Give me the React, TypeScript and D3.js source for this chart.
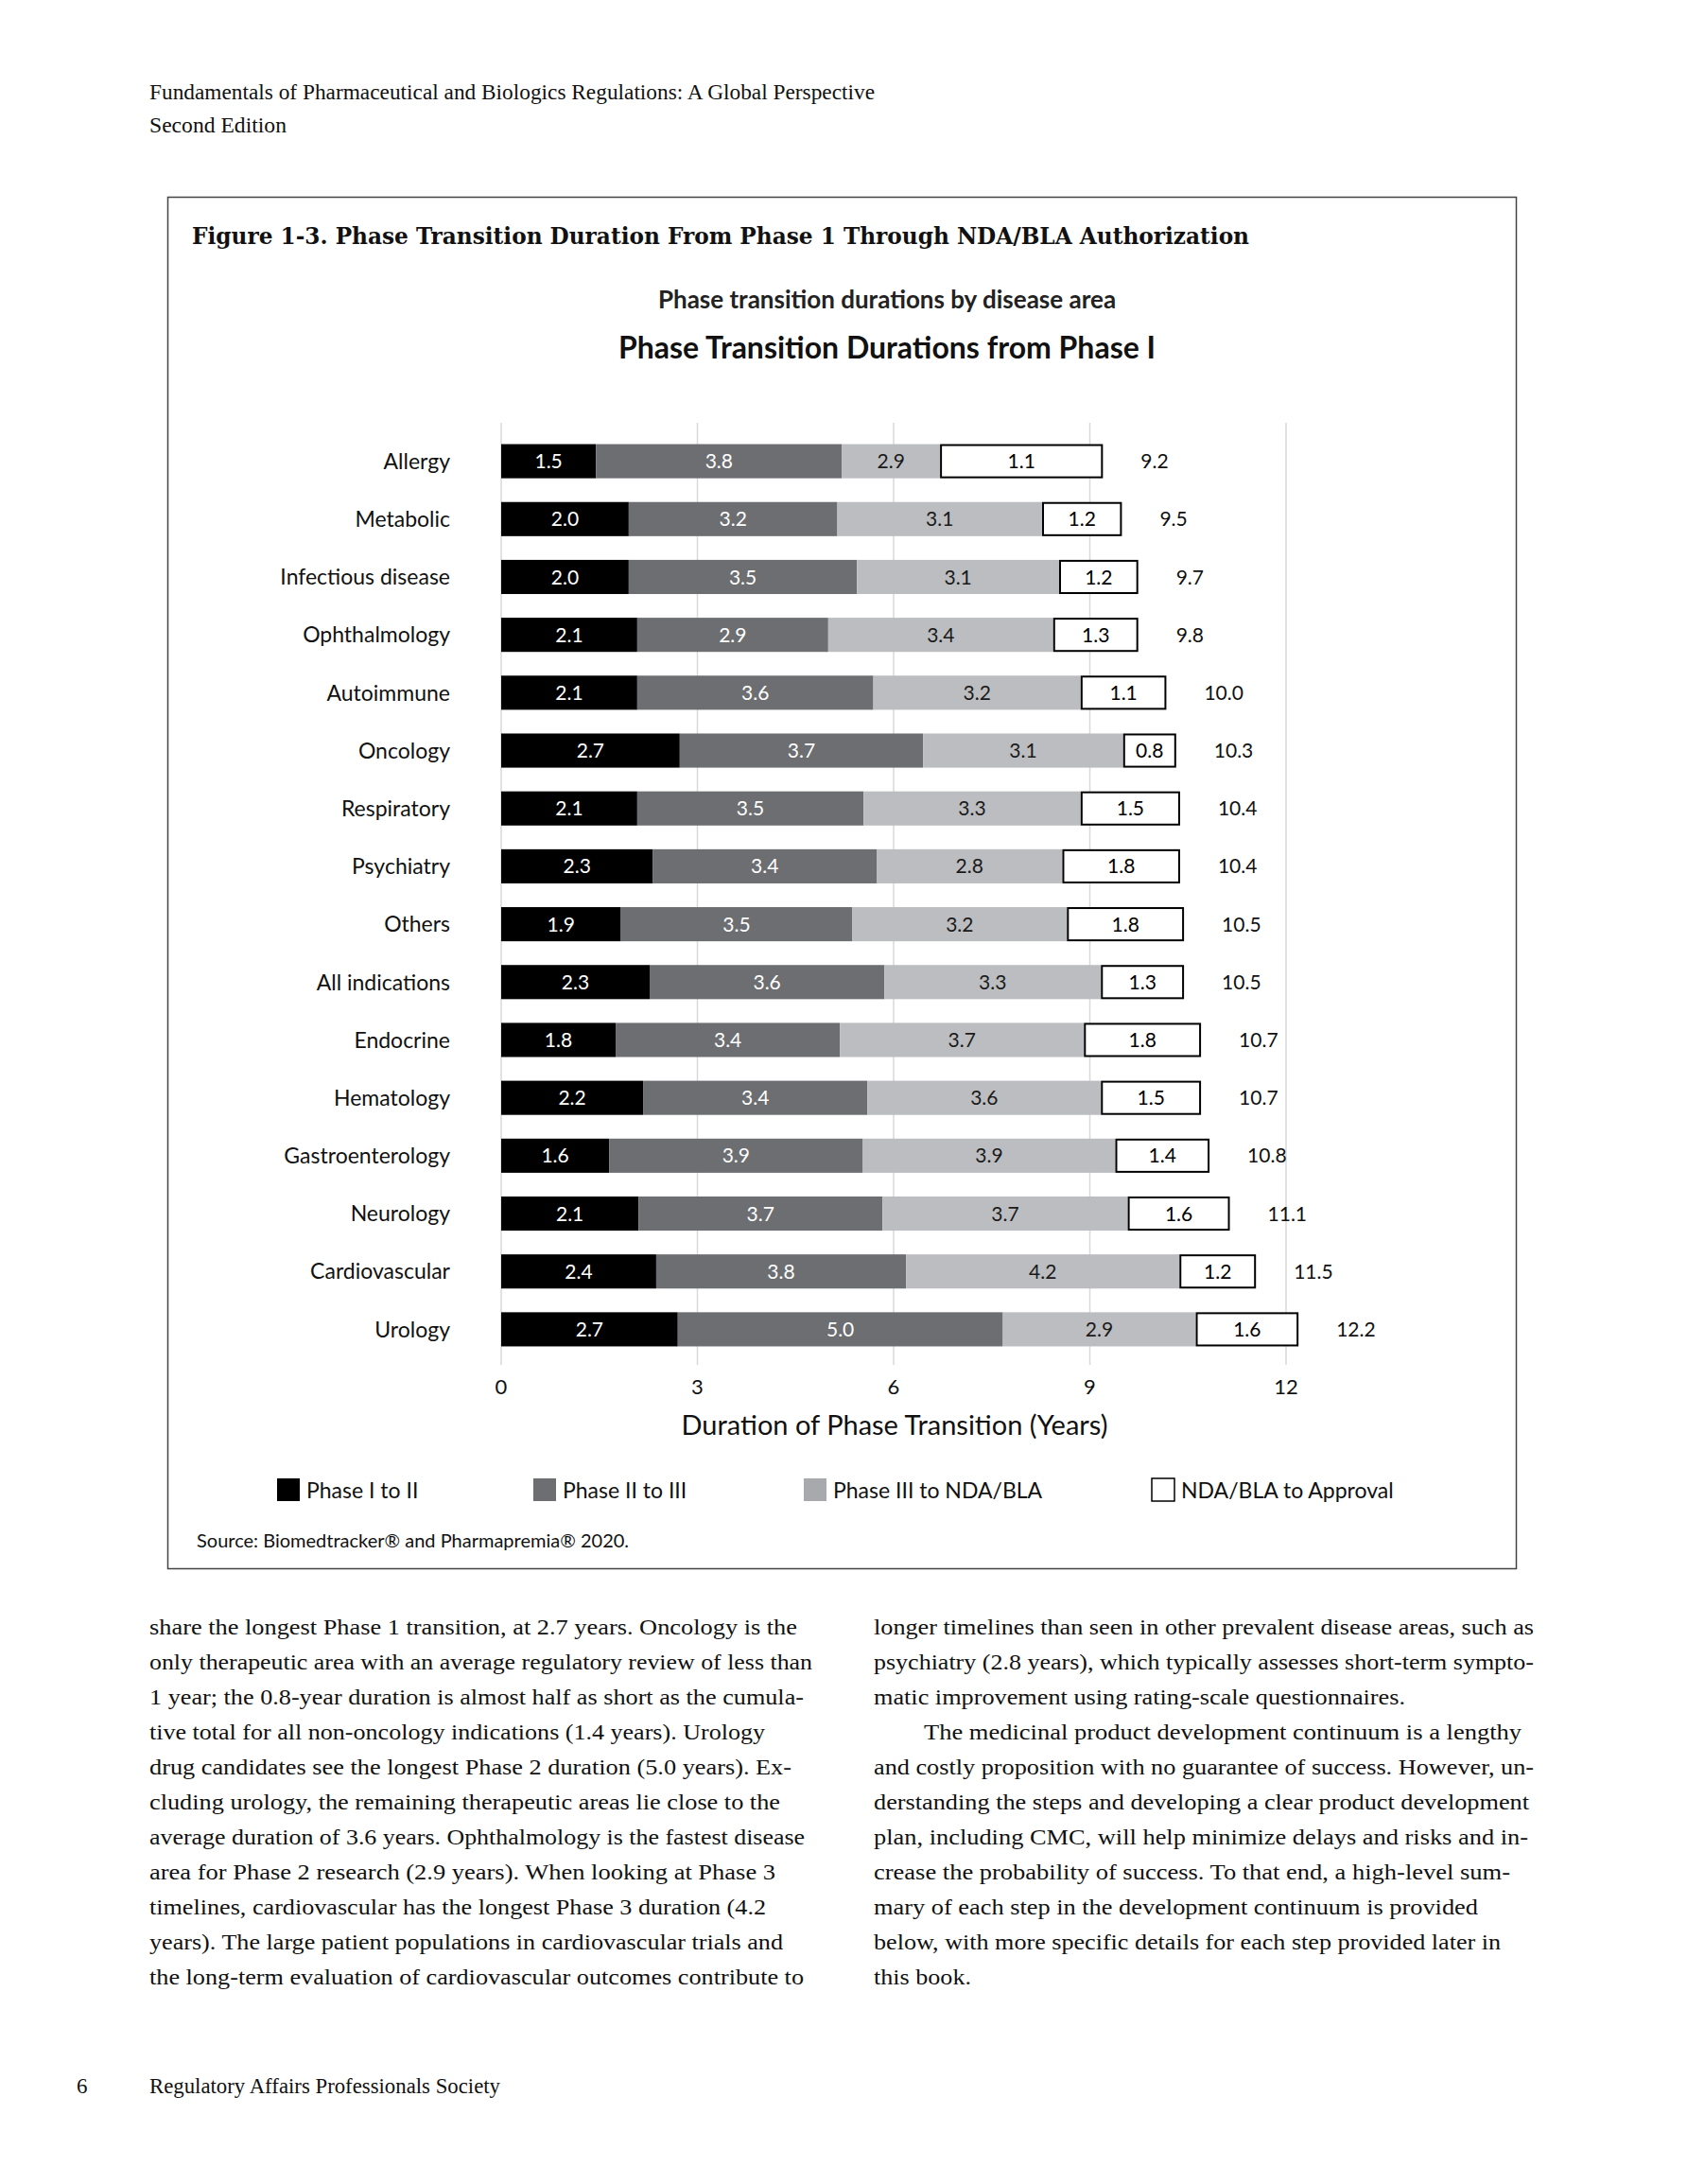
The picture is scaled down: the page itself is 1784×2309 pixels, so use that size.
import React from "react";
import * as d3 from "d3";

// ---------- chart data ----------
const categories = [
  "Allergy", "Metabolic", "Infectious disease", "Ophthalmology", "Autoimmune",
  "Oncology", "Respiratory", "Psychiatry", "Others", "All indications",
  "Endocrine", "Hematology", "Gastroenterology", "Neurology", "Cardiovascular", "Urology",
];
const seriesNames = ["Phase I to II", "Phase II to III", "Phase III to NDA/BLA", "NDA/BLA to Approval"];

// drawn segment lengths (years), as measured on the bars
const phase1 = [1.45, 1.95, 1.95, 2.08, 2.08, 2.73, 2.08, 2.32, 1.83, 2.27, 1.75, 2.17, 1.65, 2.10, 2.37, 2.70];
const phase2 = [3.76, 3.19, 3.49, 2.92, 3.61, 3.72, 3.46, 3.42, 3.54, 3.59, 3.43, 3.43, 3.88, 3.73, 3.82, 4.97];
const phase3 = [1.50, 3.13, 3.09, 3.44, 3.17, 3.06, 3.32, 2.84, 3.28, 3.31, 3.73, 3.57, 3.86, 3.75, 4.18, 2.95];
const phase4 = [2.49, 1.22, 1.21, 1.30, 1.31, 0.81, 1.52, 1.80, 1.79, 1.27, 1.79, 1.53, 1.44, 1.56, 1.17, 1.57];

// printed data labels
const phase1Labels = [1.5, 2.0, 2.0, 2.1, 2.1, 2.7, 2.1, 2.3, 1.9, 2.3, 1.8, 2.2, 1.6, 2.1, 2.4, 2.7];
const phase2Labels = [3.8, 3.2, 3.5, 2.9, 3.6, 3.7, 3.5, 3.4, 3.5, 3.6, 3.4, 3.4, 3.9, 3.7, 3.8, 5.0];
const phase3Labels = [2.9, 3.1, 3.1, 3.4, 3.2, 3.1, 3.3, 2.8, 3.2, 3.3, 3.7, 3.6, 3.9, 3.7, 4.2, 2.9];
const phase4Labels = [1.1, 1.2, 1.2, 1.3, 1.1, 0.8, 1.5, 1.8, 1.8, 1.3, 1.8, 1.5, 1.4, 1.6, 1.2, 1.6];
const totalLabels = [9.2, 9.5, 9.7, 9.8, 10.0, 10.3, 10.4, 10.4, 10.5, 10.5, 10.7, 10.7, 10.8, 11.1, 11.5, 12.2];

const xTicks = [0, 3, 6, 9, 12];

// ---------- page text ----------
const leftLines = [
  "share the longest Phase 1 transition, at 2.7 years. Oncology is the",
  "only therapeutic area with an average regulatory review of less than",
  "1 year; the 0.8-year duration is almost half as short as the cumula-",
  "tive total for all non-oncology indications (1.4 years). Urology",
  "drug candidates see the longest Phase 2 duration (5.0 years). Ex-",
  "cluding urology, the remaining therapeutic areas lie close to the",
  "average duration of 3.6 years. Ophthalmology is the fastest disease",
  "area for Phase 2 research (2.9 years). When looking at Phase 3",
  "timelines, cardiovascular has the longest Phase 3 duration (4.2",
  "years). The large patient populations in cardiovascular trials and",
  "the long-term evaluation of cardiovascular outcomes contribute to",
];
const leftEnds = [843, 859, 850, 809, 837, 825, 851, 820, 810, 828, 850];
const rightLines = [
  "longer timelines than seen in other prevalent disease areas, such as",
  "psychiatry (2.8 years), which typically assesses short-term sympto-",
  "matic improvement using rating-scale questionnaires.",
  "The medicinal product development continuum is a lengthy",
  "and costly proposition with no guarantee of success. However, un-",
  "derstanding the steps and developing a clear product development",
  "plan, including CMC, will help minimize delays and risks and in-",
  "crease the probability of success. To that end, a high-level sum-",
  "mary of each step in the development continuum is provided",
  "below, with more specific details for each step provided later in",
  "this book.",
];
const rightEnds = [1622, 1622, 1486, 1609, 1622, 1617, 1616, 1597, 1563, 1587, 1027];

const colors = ["#000000", "#6d6e71", "#bcbdc0", "#ffffff"];
const legendColors = ["#000000", "#6d6e71", "#a7a9ac", "#ffffff"];
const labelColors = ["#ffffff", "#ffffff", "#1a1a1a", "#000000"];

export default function App() {
  const W = 1784, H = 2309;
  const x = d3.scaleLinear().domain([0, 12]).range([530, 1360]);
  const y = d3.scaleBand<string>().domain(categories).range([457, 1436]).paddingInner(0.41).paddingOuter(0.205);

  const rows = categories.map((c, i) => ({
    cat: c, p1: phase1[i], p2: phase2[i], p3: phase3[i], p4: phase4[i],
  }));
  const keys = ["p1", "p2", "p3", "p4"];
  const stacked = d3.stack<any>().keys(keys)(rows);
  const labelSets = [phase1Labels, phase2Labels, phase3Labels, phase4Labels];

  const lato = "Lato, 'Open Sans', sans-serif";
  const serif = "'Liberation Serif', 'DejaVu Serif', serif";
  const bodyTop = 1728;
  const lineStep = 36.98;

  return (
    <div style={{ position: "absolute", left: 0, top: 0, background: "#fff" }}>
      <svg width={W} height={H} viewBox={`0 0 ${W} ${H}`} style={{ display: "block", background: "#fff" }}>
        <rect x={0} y={0} width={W} height={H} fill="#fff" />
        {/* running header */}
        <text x={158} y={105} fontFamily={serif} fontSize={23} fill="#111" textLength={767} lengthAdjust="spacingAndGlyphs">
          Fundamentals of Pharmaceutical and Biologics Regulations: A Global Perspective
        </text>
        <text x={158} y={140} fontFamily={serif} fontSize={23} fill="#111" textLength={145} lengthAdjust="spacingAndGlyphs">
          Second Edition
        </text>

        {/* figure box */}
        <rect x={177.5} y={208.5} width={1426} height={1450} fill="none" stroke="#444" strokeWidth={1.5} />
        <text x={203} y={258} fontFamily="'DejaVu Serif', serif" fontWeight="bold" fontSize={24} fill="#111" textLength={1118} lengthAdjust="spacingAndGlyphs">
          Figure 1-3. Phase Transition Duration From Phase 1 Through NDA/BLA Authorization
        </text>
        <text x={938} y={326} textAnchor="middle" fontFamily={lato} fontWeight="bold" fontSize={26} fill="#222">
          Phase transition durations by disease area
        </text>
        <text x={938} y={379} textAnchor="middle" fontFamily={lato} fontWeight="bold" fontSize={32} fill="#111">
          Phase Transition Durations from Phase I
        </text>

        {/* gridlines */}
        {xTicks.map((t) => (
          <line key={"g" + t} x1={x(t)} x2={x(t)} y1={447} y2={1443} stroke="#d9d9d9" strokeWidth={1.5} />
        ))}

        {/* bars */}
        {stacked.map((layer, li) => (
          <g key={"l" + li}>
            {layer.map((d: any, i: number) => {
              const x0 = x(d[0]);
              const x1 = x(d[1]);
              const yy = y(categories[i])!;
              const bw = y.bandwidth();
              return (
                <g key={i}>
                  <rect
                    x={li === 3 ? x0 + 1 : x0}
                    y={li === 3 ? yy + 1 : yy}
                    width={li === 3 ? x1 - x0 - 2 : x1 - x0}
                    height={li === 3 ? bw - 2 : bw}
                    fill={colors[li]}
                    stroke={li === 3 ? "#000" : "none"}
                    strokeWidth={li === 3 ? 2 : 0}
                  />
                  <text
                    x={(x0 + x1) / 2}
                    y={yy + bw / 2}
                    dy="0.36em"
                    textAnchor="middle"
                    fontFamily={lato}
                    fontSize={21}
                    fill={labelColors[li]}
                  >
                    {labelSets[li][i].toFixed(1)}
                  </text>
                </g>
              );
            })}
          </g>
        ))}

        {/* totals */}
        {categories.map((c, i) => (
          <text key={"t" + c} x={x(phase1[i] + phase2[i] + phase3[i] + phase4[i]) + 40} y={y(c)! + y.bandwidth() / 2} dy="0.36em"
            fontFamily={lato} fontSize={21} fill="#111">
            {totalLabels[i].toFixed(1)}
          </text>
        ))}

        {/* category labels */}
        {categories.map((c) => (
          <text key={"c" + c} x={476} y={y(c)! + y.bandwidth() / 2} dy="0.36em" textAnchor="end"
            fontFamily={lato} fontSize={23} fill="#111">
            {c}
          </text>
        ))}

        {/* x tick labels */}
        {xTicks.map((t) => (
          <text key={"xt" + t} x={x(t)} y={1474} textAnchor="middle" fontFamily={lato} fontSize={22} fill="#111">
            {t}
          </text>
        ))}
        <text x={(x(0) + x(12)) / 2 + 1} y={1517} textAnchor="middle" fontFamily={lato} fontSize={29} fill="#111">
          Duration of Phase Transition (Years)
        </text>

        {/* legend */}
        {seriesNames.map((s, i) => {
          const lx = [293, 564, 850, 1218][i];
          return (
            <g key={"lg" + i}>
              <rect x={lx} y={1563} width={24} height={24} fill={legendColors[i]}
                stroke={i === 3 ? "#000" : "none"} strokeWidth={i === 3 ? 1.5 : 0} />
              <text x={lx + 31} y={1584} fontFamily={lato} fontSize={23} fill="#111">{s}</text>
            </g>
          );
        })}

        <text x={208} y={1636} fontFamily={lato} fontSize={20} fill="#111">
          Source: Biomedtracker® and Pharmapremia® 2020.
        </text>

        {/* body text */}
        {leftLines.map((l, i) => (
          <text key={"L" + i} x={158} y={bodyTop + i * lineStep} fontFamily={serif} fontSize={24} fill="#111"
            textLength={leftEnds[i] - 158} lengthAdjust="spacingAndGlyphs">
            {l}
          </text>
        ))}
        {rightLines.map((l, i) => {
          const sx = i === 3 ? 977 : 924;
          return (
            <text key={"R" + i} x={sx} y={bodyTop + i * lineStep} fontFamily={serif} fontSize={24} fill="#111"
              textLength={rightEnds[i] - sx} lengthAdjust="spacingAndGlyphs">
              {l}
            </text>
          );
        })}

        {/* footer */}
        <text x={81} y={2213} fontFamily={serif} fontSize={23} fill="#111">6</text>
        <text x={158} y={2213} fontFamily={serif} fontSize={23} fill="#111" textLength={371} lengthAdjust="spacingAndGlyphs">
          Regulatory Affairs Professionals Society
        </text>
      </svg>
    </div>
  );
}
